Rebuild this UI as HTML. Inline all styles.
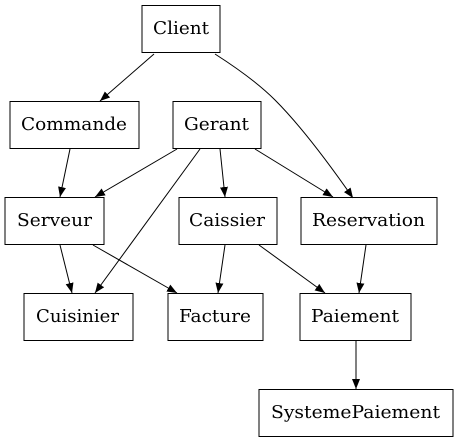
<!DOCTYPE html>
<html><head><style>html,body{margin:0;padding:0;background:#fff}</style></head><body>
<svg width="458" height="443" viewBox="0 0 458 443" xmlns="http://www.w3.org/2000/svg" font-family="'DejaVu Serif',serif" font-size="18">
<defs><marker id="a" markerWidth="10" markerHeight="8" refX="10" refY="4" orient="auto" markerUnits="userSpaceOnUse"><path d="M0,0 L10,4 L0,8 z" fill="#000"/></marker></defs>
<g fill="#fff" stroke="#000" stroke-width="1">
<rect x="142" y="5.5" width="78" height="47"/>
<rect x="10" y="101.5" width="129" height="47"/>
<rect x="173" y="101.5" width="88" height="47"/>
<rect x="5" y="197.5" width="99" height="47"/>
<rect x="179" y="197.5" width="98" height="47"/>
<rect x="301" y="197.5" width="136" height="47"/>
<rect x="24" y="293.5" width="109" height="47"/>
<rect x="168" y="293.5" width="95" height="47"/>
<rect x="300" y="293.5" width="111" height="47"/>
<rect x="259" y="389.5" width="194" height="47"/>
</g>
<g stroke="#000" fill="none" stroke-width="1" marker-end="url(#a)">
<line x1="154" y1="54" x2="100" y2="101"/>
<path d="M215,54 C240,70 260,85 275,100 C300,125 330,165 353,198"/>
<line x1="70" y1="149" x2="60" y2="197"/>
<line x1="177" y1="149" x2="95" y2="197"/>
<line x1="200" y1="149" x2="95" y2="293"/>
<line x1="220" y1="149" x2="225" y2="197"/>
<line x1="255" y1="149" x2="333" y2="197"/>
<line x1="60" y1="245" x2="72" y2="293"/>
<line x1="93" y1="245" x2="177" y2="293"/>
<line x1="225" y1="245" x2="218" y2="293"/>
<line x1="259" y1="245" x2="325" y2="293"/>
<line x1="366" y1="245" x2="359" y2="293"/>
<line x1="356" y1="341" x2="356" y2="389"/>
</g>
<g fill="#000" lengthAdjust="spacingAndGlyphs">
<text x="153" y="34" textLength="56" lengthAdjust="spacingAndGlyphs">Client</text>
<text x="21" y="130" textLength="106" lengthAdjust="spacingAndGlyphs">Commande</text>
<text x="184" y="130" textLength="65" lengthAdjust="spacingAndGlyphs">Gerant</text>
<text x="17" y="226" textLength="75" lengthAdjust="spacingAndGlyphs">Serveur</text>
<text x="189" y="226" textLength="76" lengthAdjust="spacingAndGlyphs">Caissier</text>
<text x="312" y="226" textLength="113" lengthAdjust="spacingAndGlyphs">Reservation</text>
<text x="36" y="322" textLength="83" lengthAdjust="spacingAndGlyphs">Cuisinier</text>
<text x="179" y="322" textLength="72" lengthAdjust="spacingAndGlyphs">Facture</text>
<text x="311" y="322" textLength="88" lengthAdjust="spacingAndGlyphs">Paiement</text>
<text x="271" y="418" textLength="169" lengthAdjust="spacingAndGlyphs">SystemePaiement</text>
</g>
</svg>
</body></html>
